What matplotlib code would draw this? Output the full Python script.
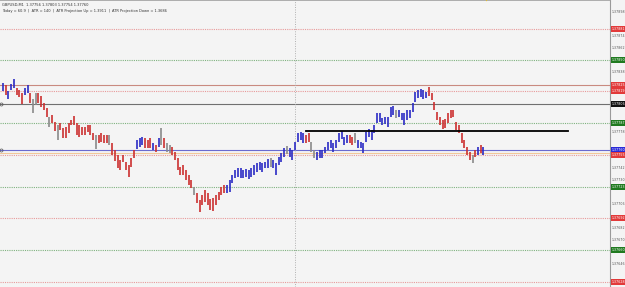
import numpy as np
import matplotlib.pyplot as plt
import matplotlib.transforms as mtransforms

# M1 bars: colour, high, low
colors = list(
    "brbbbrrrbbrggrrrrgrrgrrrrrrrrrrrrrgrrrrgrrrrrrrrrbbbrrrbrbgrggrrr"
    "rrrrrgrrrrrrrrrrrbbbbbbbbbbbbbbbbgbbbbbgbbbbbbrrggbbbbbbbbbbbbrrg"
    "bbbbbbbbbbbbbbgbbbbbbbbbbbrrrrrrrrrrrrrrrrgr"
)
highs = [
    1.37827, 1.37825, 1.37819, 1.37826, 1.37831, 1.37822, 1.37820, 1.37817, 1.37822, 1.37825,
    1.37817, 1.37811, 1.37817, 1.37817, 1.37814, 1.37807, 1.37802, 1.37793, 1.37795, 1.37788,
    1.37785, 1.37787, 1.37782, 1.37783, 1.37787, 1.37790, 1.37794, 1.37787, 1.37785, 1.37783,
    1.37783, 1.37785, 1.37785, 1.37777, 1.37775, 1.37775, 1.37777, 1.37775, 1.37775, 1.37775,
    1.37767, 1.37760, 1.37755, 1.37750, 1.37755, 1.37748, 1.37745, 1.37752, 1.37760, 1.37770,
    1.37772, 1.37773, 1.37772, 1.37770, 1.37772, 1.37767, 1.37765, 1.37772, 1.37782, 1.37772,
    1.37767, 1.37765, 1.37763, 1.37758, 1.37752, 1.37743, 1.37745, 1.37740, 1.37735, 1.37730,
    1.37723, 1.37717, 1.37710, 1.37715, 1.37720, 1.37717, 1.37711, 1.37712, 1.37715, 1.37718,
    1.37723, 1.37725, 1.37725, 1.37730, 1.37735, 1.37740, 1.37742, 1.37742, 1.37740, 1.37741,
    1.37740, 1.37742, 1.37745, 1.37747, 1.37748, 1.37747, 1.37748, 1.37751, 1.37752, 1.37750,
    1.37747, 1.37753, 1.37757, 1.37762, 1.37764, 1.37762, 1.37760, 1.37768, 1.37777, 1.37778,
    1.37777, 1.37775, 1.37777, 1.37768, 1.37760, 1.37758, 1.37760, 1.37760, 1.37763, 1.37768,
    1.37770, 1.37767, 1.37770, 1.37777, 1.37779, 1.37773, 1.37775, 1.37775, 1.37773, 1.37777,
    1.37770, 1.37768, 1.37767, 1.37778, 1.37781, 1.37780, 1.37785, 1.37797, 1.37797, 1.37792,
    1.37793, 1.37793, 1.37803, 1.37804, 1.37800, 1.37800, 1.37797, 1.37797, 1.37800, 1.37800,
    1.37807, 1.37818, 1.37820, 1.37821, 1.37820, 1.37818, 1.37823, 1.37817, 1.37808, 1.37798,
    1.37793, 1.37790, 1.37791, 1.37797, 1.37800, 1.37800, 1.37788, 1.37785, 1.37777, 1.37770,
    1.37763, 1.37758, 1.37755, 1.37760, 1.37763, 1.37765, 1.37763,
]
lows = [
    1.37819, 1.37815, 1.37811, 1.37820, 1.37822, 1.37815, 1.37813, 1.37806, 1.37815, 1.37817,
    1.37807, 1.37797, 1.37805, 1.37807, 1.37803, 1.37800, 1.37793, 1.37783, 1.37787, 1.37779,
    1.37770, 1.37780, 1.37772, 1.37772, 1.37777, 1.37785, 1.37785, 1.37775, 1.37773, 1.37775,
    1.37775, 1.37778, 1.37775, 1.37770, 1.37761, 1.37767, 1.37768, 1.37767, 1.37767, 1.37765,
    1.37755, 1.37749, 1.37742, 1.37740, 1.37748, 1.37740, 1.37733, 1.37743, 1.37752, 1.37761,
    1.37763, 1.37765, 1.37762, 1.37762, 1.37762, 1.37760, 1.37758, 1.37763, 1.37765, 1.37762,
    1.37758, 1.37757, 1.37755, 1.37750, 1.37740, 1.37735, 1.37735, 1.37730, 1.37725, 1.37722,
    1.37715, 1.37707, 1.37698, 1.37705, 1.37708, 1.37705, 1.37700, 1.37699, 1.37705, 1.37710,
    1.37715, 1.37717, 1.37717, 1.37718, 1.37727, 1.37732, 1.37733, 1.37732, 1.37732, 1.37733,
    1.37731, 1.37733, 1.37735, 1.37738, 1.37740, 1.37738, 1.37742, 1.37742, 1.37743, 1.37742,
    1.37735, 1.37745, 1.37748, 1.37753, 1.37756, 1.37753, 1.37750, 1.37760, 1.37768, 1.37770,
    1.37767, 1.37767, 1.37768, 1.37758, 1.37752, 1.37750, 1.37752, 1.37752, 1.37757, 1.37760,
    1.37762, 1.37758, 1.37762, 1.37768, 1.37771, 1.37765, 1.37767, 1.37767, 1.37765, 1.37767,
    1.37762, 1.37762, 1.37757, 1.37768, 1.37773, 1.37770, 1.37777, 1.37787, 1.37788, 1.37785,
    1.37786, 1.37783, 1.37793, 1.37795, 1.37792, 1.37793, 1.37790, 1.37785, 1.37790, 1.37792,
    1.37798, 1.37808, 1.37812, 1.37813, 1.37811, 1.37812, 1.37814, 1.37810, 1.37800, 1.37790,
    1.37785, 1.37781, 1.37782, 1.37787, 1.37792, 1.37793, 1.37780, 1.37777, 1.37767, 1.37762,
    1.37755, 1.37750, 1.37747, 1.37753, 1.37755, 1.37757, 1.37755,
]

# horizontal levels: price, colour, style, label box colour (None = no box)
levels = [
    (1.37881, '#e89a9a', 'dot', '#e23a3a'),
    (1.37850, '#7fb27f', 'dot', '#1f7a1f'),
    (1.37825, '#c98a80', 'solid', '#e23a3a'),
    (1.37819, '#e89a9a', 'dot', '#e23a3a'),
    (1.37806, '#707070', 'solid', '#111111'),
    (1.37787, '#7fb27f', 'dot', '#1f7a1f'),
    (1.37760, '#6a6ad0', 'solid', '#2a2ad8'),
    (1.37757, '#f2c89a', 'solid', None),
    (1.37755, '#e89a9a', 'dot', '#e23a3a'),
    (1.37723, '#7fb27f', 'dot', '#1f7a1f'),
    (1.37692, '#e89a9a', 'dot', '#e23a3a'),
    (1.37660, '#7fb27f', 'dot', '#1f7a1f'),
    (1.37628, '#e89a9a', 'dot', '#e23a3a'),
]
trend_price = 1.37779
trend_from, trend_to = 111, 207
vline_bar = 107

header1 = "GBPUSD,M1  1.37756 1.37803 1.37754 1.37760"
header2 = "Today = 60.9  |  ATR = 140  |  ATR Projection Up = 1.3911  |  ATR Projection Down = 1.3686"

bg = '#f4f4f4'
top_price = 1.37910
span = 0.00287
step = 2.73  # px per bar

fig = plt.figure(figsize=(6.25, 2.87), dpi=100, facecolor=bg)
ax = fig.add_axes([0, 0, 610 / 625, 1])
ax.set_facecolor(bg)
ax.set_xlim(-3 / step, 607 / step)
ax.set_ylim(top_price - span, top_price)

# levels
for price, col, style, box in levels:
    ls = (0, (1, 1)) if style == 'dot' else '-'
    ax.axhline(price, color=col, lw=0.8, ls=ls, zorder=1)

ax.axvline(vline_bar, color='#b0b0b0', lw=0.7, ls=(0, (1, 1.5)), zorder=1)
ax.plot([trend_from, trend_to], [trend_price, trend_price], color='black', lw=1.3, zorder=3)

# small anchor markers on level lines
for price in (1.37806, 1.37760):
    ax.plot([-3 / step + 0.3], [price], marker='o', ms=2.2, mfc='none',
            mec='#555555', mew=0.5, clip_on=False, zorder=4)

# bars
cmap = {'b': '#2b2bc4', 'r': '#cc3030', 'g': '#8a8a8a'}
x = np.arange(len(highs))
bar_cols = [cmap[c] for c in colors]
ax.vlines(x, lows, highs, colors=bar_cols, lw=1.2, zorder=2)

# axis styling
ax.set_xticks([])
ax.set_yticks([])
for side in ('left', 'bottom'):
    ax.spines[side].set_visible(False)
ax.spines['right'].set_color('#9a9a9a')
ax.spines['right'].set_linewidth(0.8)
ax.spines['top'].set_color('#a0a0a0')
ax.spines['top'].set_linewidth(1.2)

# right price scale
trans = mtransforms.blended_transform_factory(ax.transAxes, ax.transData)
boxed = [lv[0] for lv in levels if lv[3] is not None]
for k in range(1, 24):
    p = top_price - k * 0.00012
    if min(abs(p - b) for b in boxed) < 0.000065:
        continue
    ax.text(1.003, p, f"{p:.5f}", transform=trans, fontsize=2.3, color='#555555',
            va='center', ha='left', clip_on=False)
for price, col, style, box in levels:
    if box is None:
        continue
    ax.text(1.003, price, f"{price:.5f}", transform=trans, fontsize=2.3, color='white',
            va='center', ha='left', clip_on=False, zorder=5,
            bbox=dict(boxstyle='square,pad=0.2', fc=box, ec='none'))

# header
fig.text(0.004, 0.99, header1, fontsize=2.6, color='#333333', va='top', ha='left')
fig.text(0.004, 0.968, header2, fontsize=2.6, color='#333333', va='top', ha='left')

# small yellow marker at the top
fig.text(487 / 625, 0.997, u"\u25bc", fontsize=3, color='#e8c020', ha='center', va='center')

fig.savefig('out.png', dpi=100, facecolor=bg)
